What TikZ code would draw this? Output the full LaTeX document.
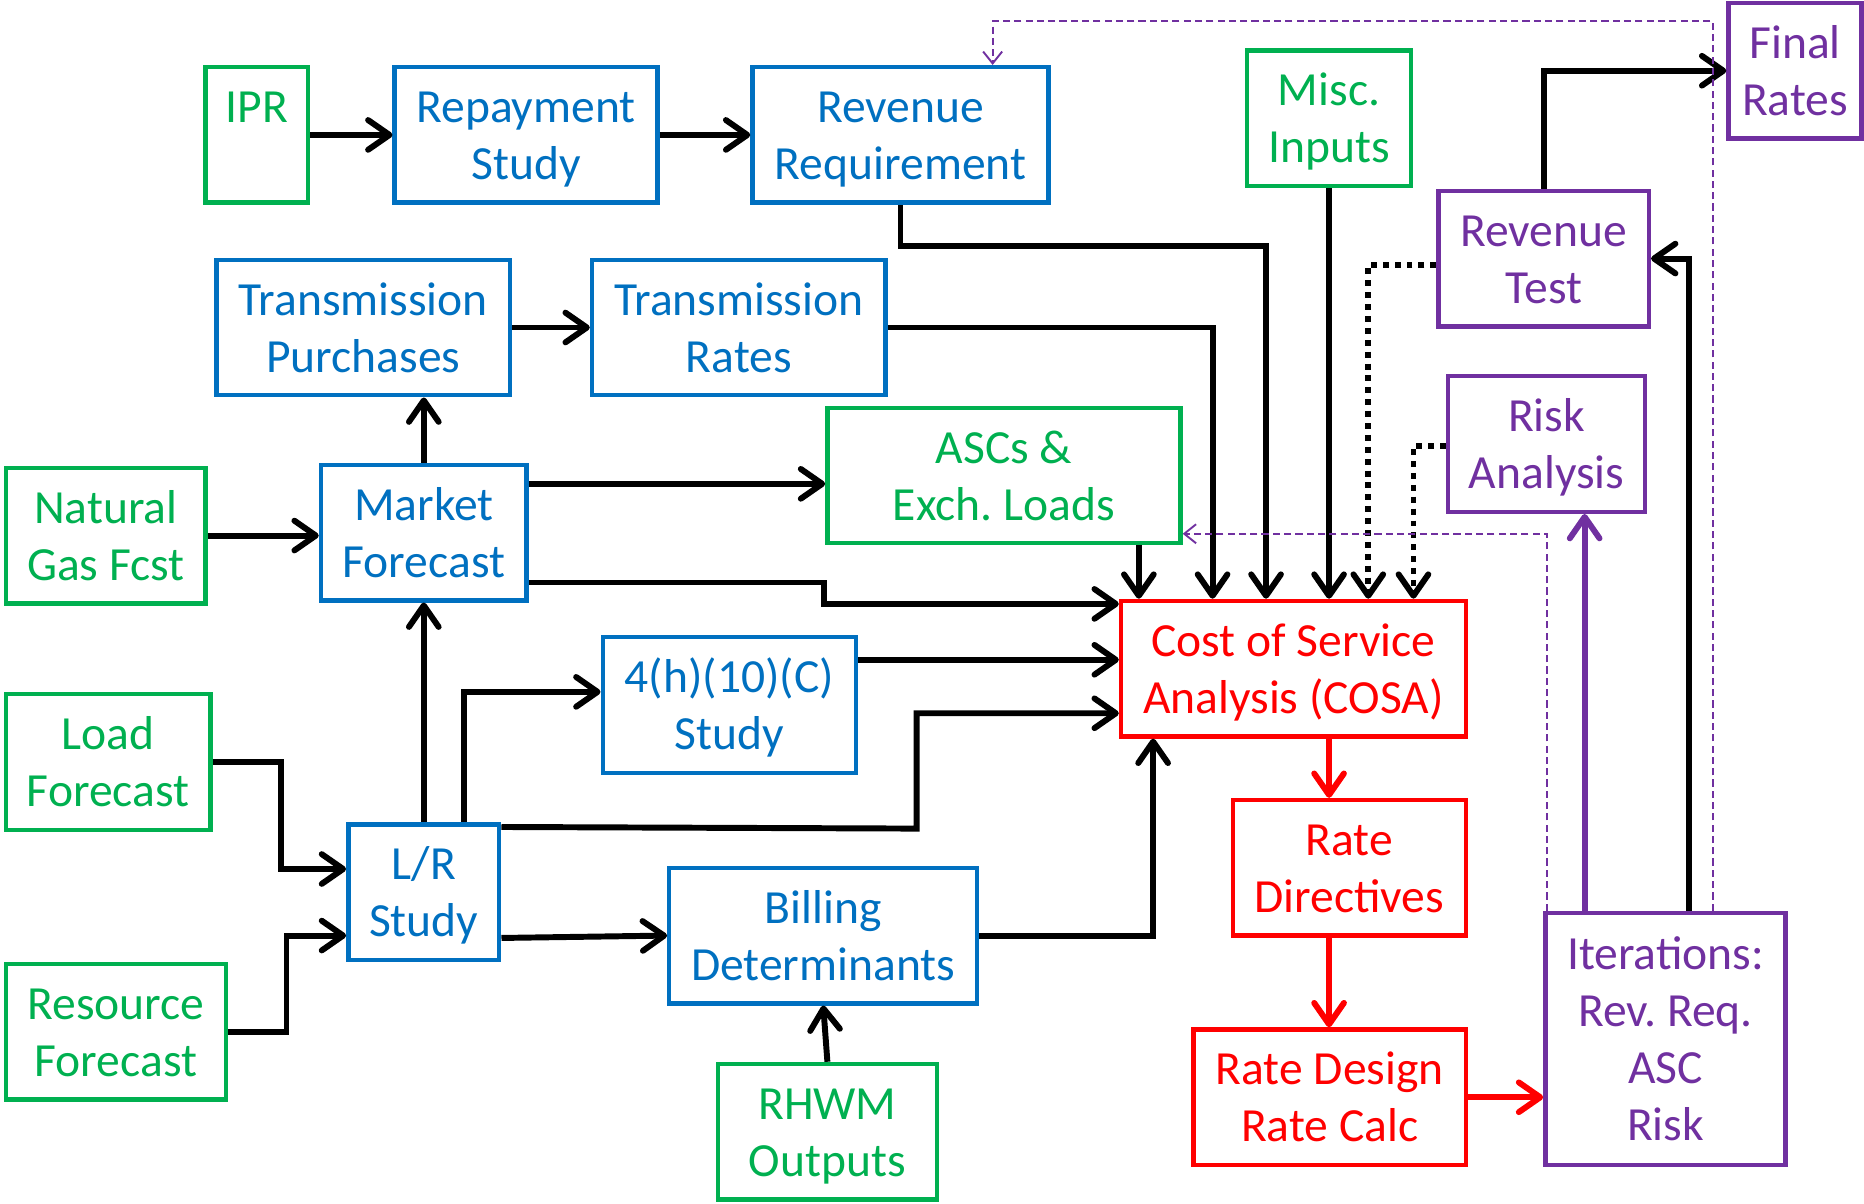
\documentclass[tikz,border=0pt]{standalone}
\usepackage{fontspec}
\setmainfont{Carlito}
\usetikzlibrary{arrows.meta}
\frenchspacing
\definecolor{cblue}{HTML}{0070C0}
\definecolor{cgreen}{HTML}{00B050}
\definecolor{cred}{HTML}{FF0000}
\definecolor{cpurple}{HTML}{7030A0}
\newcommand\sx{\rule[-9pt]{0pt}{45pt}}
\tikzset{
  box/.style={draw, rectangle, line width=3.7pt, inner sep=0pt, minimum height=114pt,
    align=center, font=\fontsize{40pt}{48pt}\selectfont},
  inbox/.style={box, draw=cgreen, text=cgreen},
  bluebox/.style={box, draw=cblue, text=cblue},
  redbox/.style={box, draw=cred, text=cred},
  purbox/.style={box, draw=cpurple, text=cpurple},
  blk/.style={line width=5pt, black, -{Straight Barb[length=18pt,width=25pt,round]}},
  redarr/.style={blk, draw=cred},
  purarr/.style={blk, draw=cpurple},
  dotarr/.style={blk, dash pattern=on 5pt off 5pt},
  dasharr/.style={line width=1.6pt, draw=cpurple, dash pattern=on 6pt off 3.5pt,
    -{Straight Barb[length=10pt,width=16pt]}},
}
\begin{document}
\begin{tikzpicture}[x=1pt,y=-1pt]
\useasboundingbox (0,0) rectangle (1568,1012);
% input boxes
\node[inbox, minimum width=86pt] (ipr) at (216,113.5) {\sx IPR\\\sx};
\node[inbox, minimum width=138pt] (misc) at (1118,99.5) {\sx Misc.\\\sx Inputs};
\node[inbox, minimum width=168pt] (ng) at (89,450.5) {\sx Natural\\\sx Gas Fcst};
\node[inbox, minimum width=297pt] (ascs) at (844.5,400) {\sx ASCs \&\\\sx Exch. Loads};
\node[inbox, minimum width=172pt] (lf) at (91,641) {\sx Load\\\sx Forecast};
\node[inbox, minimum width=185pt] (rf) at (97.5,868) {\sx Resource\\\sx Forecast};
\node[inbox, minimum width=184pt] (rhwm) at (696,952) {\sx RHWM\\\sx Outputs};
% blue boxes
\node[bluebox, minimum width=221pt] (rep) at (442.5,113.5) {\sx Repayment\\\sx Study};
\node[bluebox, minimum width=249pt] (rr) at (757.5,113.5) {\sx Revenue\\\sx Requirement};
\node[bluebox, minimum width=247pt] (tp) at (305.5,275.5) {\sx Transmission\\\sx Purchases};
\node[bluebox, minimum width=247pt] (tr) at (621.5,275.5) {\sx Transmission\\\sx Rates};
\node[bluebox, minimum width=173pt] (mf) at (356.5,448) {\sx Market\\\sx Forecast};
\node[bluebox, minimum width=213pt] (h4) at (613.5,593) {\sx 4(h)(10)(C)\\\sx Study};
\node[bluebox, minimum width=127pt] (lr) at (356.5,750.5) {\sx L/R\\\sx Study};
\node[bluebox, minimum width=259pt] (bd) at (692.5,787) {\sx Billing\\\sx Determinants};
% red boxes
\node[redbox, minimum width=290pt] (cosa) at (1088,562.5) {\sx Cost of Service\\\sx Analysis (COSA)};
\node[redbox, minimum width=196pt] (rd) at (1135,730) {\sx Rate\\\sx Directives};
\node[redbox, minimum width=229pt] (rdes) at (1118.5,923) {\sx Rate Design\\\sx Rate Calc};
% purple boxes
\node[purbox, minimum width=112pt] (fr) at (1510,59.5) {\sx Final\\\sx Rates};
\node[purbox, minimum width=177pt] (rt) at (1298.5,217.5) {\sx Revenue\\\sx Test};
\node[purbox, minimum width=166pt] (risk) at (1301,373.5) {\sx Risk\\\sx Analysis};
\node[purbox, minimum width=202pt, minimum height=212pt] (it) at (1401,874) {\sx Iterations:\\\sx Rev. Req.\\\sx ASC\\\sx Risk};
% black connectors
\draw[blk] (ipr) -- (rep);
\draw[blk] (rep) -- (rr);
\draw[blk] (tp) -- (tr);
\draw[blk] (mf.north) -- (mf.north |- tp.south);
\draw[blk] (ng.east) -- (mf.west |- ng.east);
\draw[blk] (mf.east |- 0,407) -- (ascs.west |- 0,407);
\draw[blk] (mf.east |- 0,490) -- (693,490) -- (693,508) -- (cosa.west |- 0,508);
\draw[blk] (ascs.south -| 958,0) -- (cosa.north -| 958,0);
\draw[blk] (tr.east) -| (cosa.north -| 1020,0);
\draw[blk] (rr.south) |- (1065,207) -- (cosa.north -| 1065,0);
\draw[blk] (misc.south) -- (cosa.north -| misc.south);
\draw[dotarr] (rt.west |- 0,223) -| (cosa.north -| 1151,0);
\draw[dotarr] (risk.west |- 0,375) -| (cosa.north -| 1189,0);
\draw[blk] (h4.east |- 0,555) -- (cosa.west |- 0,555);
\draw[blk] (lr.north -| 390,0) |- (h4.west |- 0,582);
\draw[blk] ([yshift=-4pt]lr.north east) -- (771,697) |- (cosa.west |- 0,600);
\draw[blk] (lr.north) -- (mf.south);
\draw[blk] (lf.east) -- (236,641) |- (lr.west |- 0,731);
\draw[blk] (rf.east) -- (241,868) |- (lr.west |- 0,787);
\draw[blk] (lr.east |- 0,789) -- (bd.west);
\draw[blk] (rhwm.north) -- (bd.south);
\draw[blk] (bd.east) -| (cosa.south -| 970,0);
\draw[blk] (rt.north) |- (fr.west);
\draw[blk] (it.north -| 1421,0) |- (rt.east);
% red connectors
\draw[redarr] (cosa.south -| 1118,0) -- (rd.north -| 1118,0);
\draw[redarr] (rd.south -| 1118,0) -- (rdes.north -| 1118,0);
\draw[redarr] (rdes.east) -- (it.west |- rdes.east);
% purple connectors
\draw[purarr] (it.north -| 1333,0) -- (risk.south -| 1333,0);
\draw[dasharr] (it.north -| 1441,0) |- (835,18) -- (rr.north -| 835,0);
\draw[dasharr] (it.north -| 1301,0) |- (ascs.east |- 0,449);
\end{tikzpicture}
\end{document}
